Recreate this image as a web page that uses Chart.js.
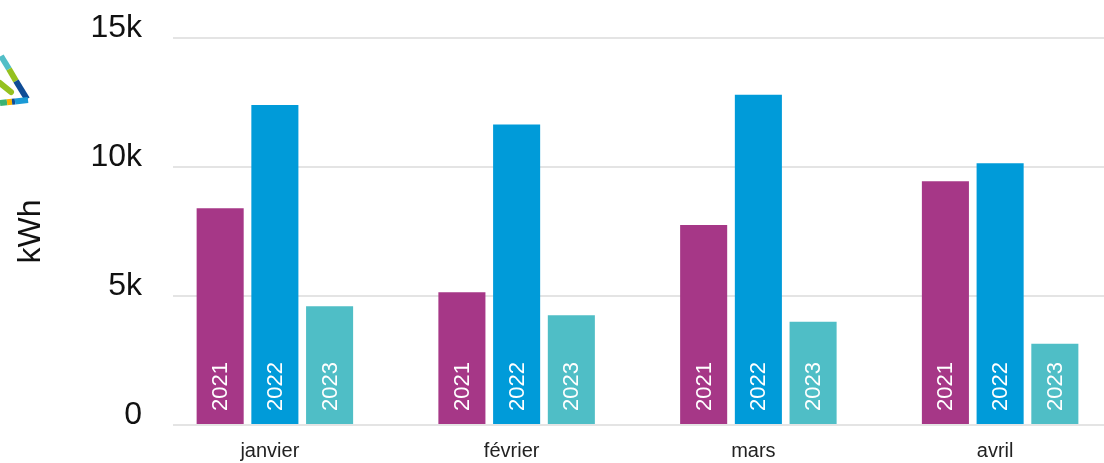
<!DOCTYPE html>
<html lang="fr">
<head>
<meta charset="utf-8">
<title>Consommation kWh</title>
<script src="https://cdn.jsdelivr.net/npm/chart.js@4/dist/chart.umd.min.js"></script>
<style>
  html, body { margin: 0; padding: 0; background: #fff; overflow: hidden; }
  #wrap { position: absolute; left: 0; top: 0; width: 1121px; height: 463px; }
</style>
</head>
<body>
<div id="wrap"><canvas id="kwhChart"></canvas></div>
<script>
// data
const months = ["janvier", "février", "mars", "avril"];
const years = ["2021", "2022", "2023"];
const kwh2021 = [8400, 5150, 7750, 9450];
const kwh2022 = [12400, 11650, 12800, 10150];
const kwh2023 = [4600, 4250, 4000, 3150];
const yTicks = [0, 5000, 10000, 15000];

const yearColors = ["#a63787", "#009bd9", "#4fbec6"];
const FONT = "'Liberation Sans', Arial, Helvetica, sans-serif";

// white year text, rotated, at the foot of each bar
const barYearLabels = {
  id: "barYearLabels",
  afterDatasetsDraw(chart) {
    const ctx = chart.ctx;
    chart.data.datasets.forEach((ds, i) => {
      const meta = chart.getDatasetMeta(i);
      meta.data.forEach(bar => {
        ctx.save();
        ctx.translate(bar.x + 1, bar.base - 13);
        ctx.rotate(-Math.PI / 2);
        ctx.fillStyle = "#ffffff";
        ctx.font = "22px " + FONT;
        ctx.textAlign = "left";
        ctx.textBaseline = "middle";
        ctx.fillText(ds.label, 0, 0);
        ctx.restore();
      });
    });
  }
};

// gridlines in the original start a bit right of the plot edge
const gridMask = {
  id: "gridMask",
  beforeDatasetsDraw(chart) {
    const { ctx, chartArea } = chart;
    ctx.save();
    ctx.fillStyle = "#ffffff";
    ctx.fillRect(chartArea.left - 2, 0, 173 - chartArea.left + 2, chartArea.bottom + 3);
    ctx.restore();
  }
};

// cut-off logo in the top-left corner
const cornerLogo = {
  id: "cornerLogo",
  afterDraw(chart) {
    const ctx = chart.ctx;
    const seg = (x1, y1, x2, y2, color, cap) => {
      ctx.beginPath();
      ctx.moveTo(x1, y1);
      ctx.lineTo(x2, y2);
      ctx.strokeStyle = color;
      ctx.lineCap = cap || "butt";
      ctx.stroke();
    };
    ctx.save();
    ctx.lineWidth = 6;
    seg(1, 56, 9, 69, "#52bec7");
    seg(9, 69, 16, 81, "#95c11f");
    seg(16, 81, 27, 99, "#0e4c96");
    seg(0, 103, 7, 102.3, "#3bb273");
    seg(7, 102.3, 12, 101.8, "#f9b200");
    seg(12, 101.8, 15, 101.5, "#0e4c96");
    seg(15, 101.5, 28, 100, "#1a9ad6");
    seg(0, 83, 11, 92, "#95c11f", "round");
    ctx.restore();
  }
};

const kwhSeries = [kwh2021, kwh2022, kwh2023];

new Chart(document.getElementById("kwhChart"), {
  type: "bar",
  data: {
    labels: months,
    datasets: years.map((y, i) => ({
      label: y,
      data: kwhSeries[i],
      backgroundColor: yearColors[i],
      borderWidth: 0,
      categoryPercentage: 0.679,
      barPercentage: 0.86
    }))
  },
  options: {
    responsive: true,
    maintainAspectRatio: false,
    animation: false,
    layout: { padding: { top: 38, left: 0, right: 0, bottom: 0 } },
    plugins: {
      legend: { display: false },
      tooltip: { enabled: false }
    },
    scales: {
      x: {
        grid: { display: false, drawTicks: false },
        border: { display: false },
        ticks: {
          font: { family: FONT, size: 20 },
          color: "#222",
          padding: 14,
          labelOffset: -5
        },
        afterFit: s => { s.height = 38; }
      },
      y: {
        min: 0,
        max: 15000,
        afterBuildTicks: s => { s.ticks = yTicks.map(v => ({ value: v })); },
        grid: { color: "#e4e4e4", lineWidth: 2, drawTicks: false },
        border: { display: false },
        ticks: {
          font: { family: FONT, size: 32 },
          color: "#111",
          padding: 12,
          labelOffset: -10,
          callback: v => v === 0 ? "0" : (v / 1000) + "k"
        },
        title: {
          display: true,
          text: "kWh",
          font: { family: FONT, size: 32 },
          color: "#111",
          padding: { top: 12, bottom: 0 }
        },
        afterFit: s => { s.width = 154; }
      }
    }
  },
  plugins: [gridMask, barYearLabels, cornerLogo]
});
</script>
</body>
</html>
